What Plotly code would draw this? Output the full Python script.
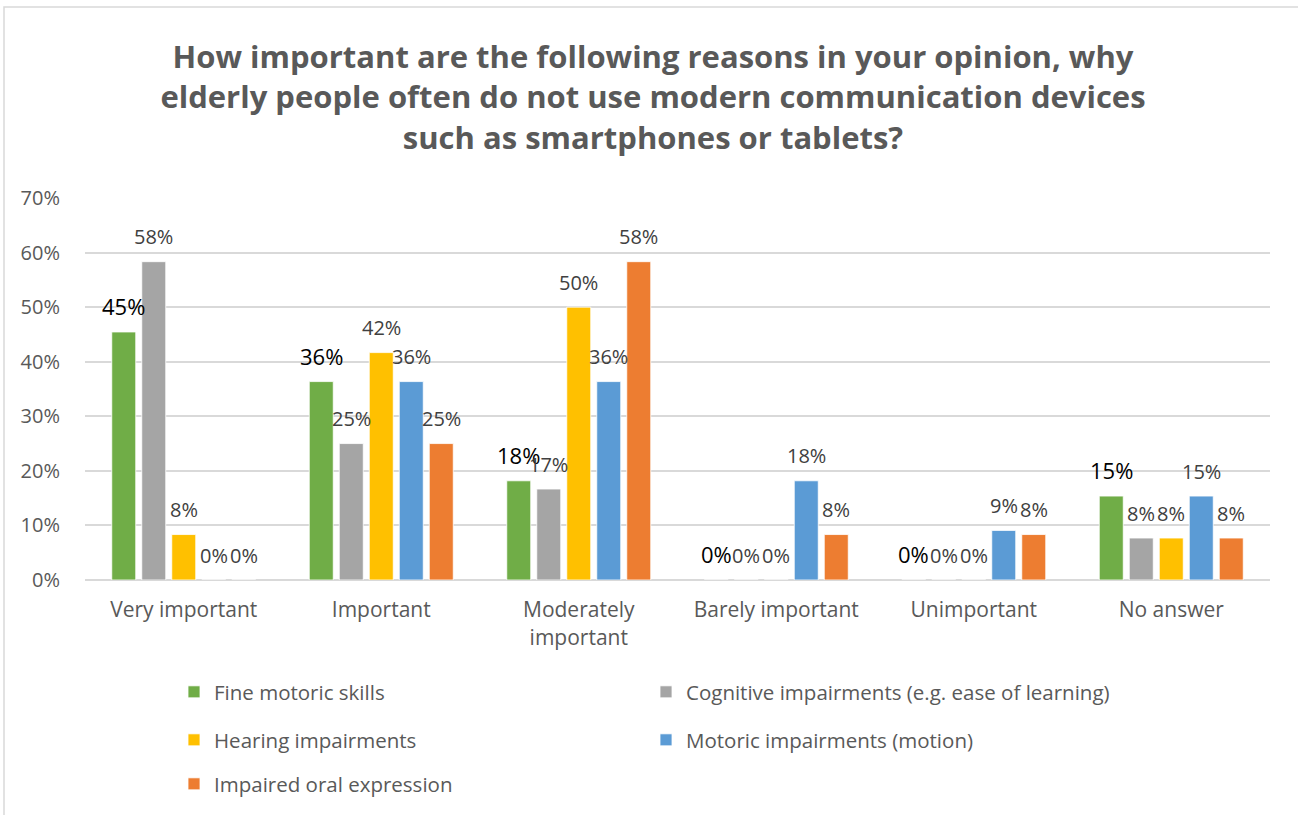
import plotly.graph_objects as go

# Survey categories and answer shares per reason
categories = ["Very important", "Important", "Moderately important",
              "Barely important", "Unimportant", "No answer"]
tick_labels = ["Very important", "Important", "Moderately<br>important",
               "Barely important", "Unimportant", "No answer"]

series_names = ["Fine motoric skills",
                "Cognitive impairments (e.g. ease of learning)",
                "Hearing impairments",
                "Motoric impairments (motion)",
                "Impaired oral expression"]

fine_motoric = [0.4545, 0.3636, 0.1818, 0.0, 0.0, 0.1538]
cognitive = [0.5833, 0.25, 0.1667, 0.0, 0.0, 0.0769]
hearing = [0.0833, 0.4167, 0.50, 0.0, 0.0, 0.0769]
motoric = [0.0, 0.3636, 0.3636, 0.1818, 0.0909, 0.1538]
oral = [0.0, 0.25, 0.5833, 0.0833, 0.0833, 0.0769]

y_ticks = [0, 0.1, 0.2, 0.3, 0.4, 0.5, 0.6, 0.7]

colors = ["#70AD47", "#A5A5A5", "#FFC000", "#5B9BD5", "#ED7D31"]
legend_ids = ["legend", "legend", "legend2", "legend2", "legend3"]
all_values = [fine_motoric, cognitive, hearing, motoric, oral]

FONT = "Open Sans"
W, H = 1298, 815
ML, MR, MT, MB = 85, 28, 198, 235
PW, PH = W - ML - MR, H - MT - MB
BARGAP = 0.2405
GROUPGAP = 0.2

fig = go.Figure()
for name, vals, color, lg in zip(series_names, all_values, colors, legend_ids):
    fig.add_trace(go.Bar(
        x=categories, y=vals, name=name, legend=lg,
        marker=dict(color=color, line=dict(color="white", width=0.8)),
        hovertemplate="%{x}: %{y:.0%}<extra>" + name + "</extra>",
    ))

# value labels centred above each bar
pitch = (1 - BARGAP) / len(all_values)
annotations = []
for i, vals in enumerate(all_values):
    first = i == 0
    for j, v in enumerate(vals):
        annotations.append(dict(
            x=j + (i - 2) * pitch, y=v, xref="x", yref="y",
            text=f"{round(v * 100)}%", showarrow=False,
            yanchor="middle", yshift=26 if first else 25,
            font=dict(family=FONT, size=22 if first else 20,
                      color="#000000" if first else "#404040"),
        ))

# outer chart frame
def px_x(p):
    return (p - ML) / PW

def px_y(p):
    return (MT + PH - p) / PH

shapes = [dict(type="rect", xref="paper", yref="paper",
               x0=px_x(4), x1=px_x(1330), y0=px_y(850), y1=px_y(7),
               line=dict(color="#D9D9D9", width=1.5), fillcolor="rgba(0,0,0,0)",
               layer="below")]

legend_common = dict(orientation="h", xref="container", yref="container",
                     xanchor="left", yanchor="middle",
                     font=dict(family=FONT, size=20.5, color="#595959"),
                     entrywidth=427, entrywidthmode="pixels",
                     bgcolor="rgba(0,0,0,0)", itemclick=False)

fig.update_layout(
    width=W, height=H,
    margin=dict(l=ML, r=MR, t=MT, b=MB),
    paper_bgcolor="white", plot_bgcolor="white",
    barmode="group", bargap=BARGAP, bargroupgap=GROUPGAP,
    font=dict(family=FONT, color="#595959"),
    title=dict(
        text="How important are the following reasons in your opinion, why<br>"
             "elderly people often do not use modern communication devices<br>"
             "such as smartphones or tablets?",
        x=653 / W, xanchor="center", y=1 - 68 / H, yanchor="top",
        font=dict(family=FONT, size=31, color="#595959", weight="bold"),
    ),
    xaxis=dict(
        type="category", tickmode="array", tickvals=categories, ticktext=tick_labels,
        showgrid=False, showline=False, zeroline=False,
        ticks="outside", ticklen=11, tickcolor="rgba(0,0,0,0)",
        tickfont=dict(family=FONT, size=21, color="#595959"),
    ),
    yaxis=dict(
        range=[0, 0.7], tickvals=y_ticks, tickformat=".0%",
        showgrid=True, gridcolor="#D9D9D9", gridwidth=1.5,
        zeroline=True, zerolinecolor="#D9D9D9", zerolinewidth=1.5,
        showline=False, ticks="outside", ticklen=20, tickcolor="rgba(0,0,0,0)",
        tickfont=dict(family=FONT, size=20, color="#595959"),
    ),
    legend=dict(legend_common, x=174 / W, y=1 - 692 / H),
    legend2=dict(legend_common, x=174 / W, y=1 - 740 / H),
    legend3=dict(legend_common, x=174 / W, y=1 - 784 / H),
    annotations=annotations,
    shapes=shapes,
)

fig.write_html("out.html")
